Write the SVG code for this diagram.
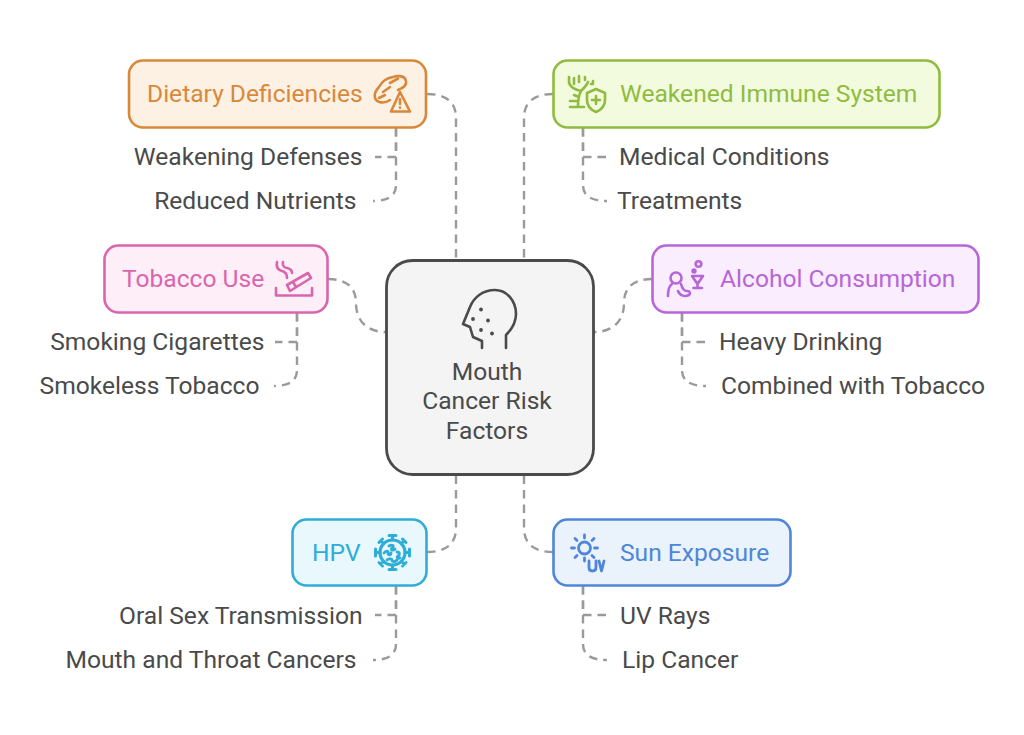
<svg xmlns="http://www.w3.org/2000/svg" width="1024" height="735" viewBox="0 0 1024 735">
<style>
text{font-family:Roboto,"Liberation Sans",sans-serif;font-size:24.6px}
.t{fill:#4a4a4a}
.c{fill:none;stroke:#9a9a9a;stroke-width:2.4;stroke-dasharray:8.500 6}
.b{stroke-width:2.6}
.i{fill:none;stroke-width:2.6;stroke-linecap:round;stroke-linejoin:round}
.d{stroke:none}
</style>
<rect width="1024" height="735" fill="#fff"/>
<g id="connectors">
<path class="c" d="M427 94C446 94 456 102 456 118V260"/>
<path class="c" d="M396 128V157H375"/>
<path class="c" d="M396 128V185C396 196 388 201 373 201"/>
<path class="c" d="M553 94C534 94 524 102 524 118V260"/>
<path class="c" d="M583 128V157H606"/>
<path class="c" d="M583 128V185C583 196 591 201 607 201"/>
<path class="c" d="M328 279C346 279 356 287 356 303C356 322 368 332 386 332"/>
<path class="c" d="M297 313V342H275"/>
<path class="c" d="M297 313V370C297 381 289 386 274 386"/>
<path class="c" d="M652 279C634 279 624 287 624 303C624 322 612 332 594 332"/>
<path class="c" d="M682 313V342H705"/>
<path class="c" d="M682 313V370C682 381 690 386 706 386"/>
<path class="c" d="M427 552C446 552 456 544 456 528V475"/>
<path class="c" d="M396 586V615H375"/>
<path class="c" d="M396 586V644C396 655 388 660 373 660"/>
<path class="c" d="M553 552C534 552 524 544 524 528V475"/>
<path class="c" d="M583 586V615H606"/>
<path class="c" d="M583 586V644C583 655 591 660 607 660"/>
</g>
<g id="center">
<rect x="386.500" y="260.500" width="207" height="214" rx="26" fill="#f4f4f4" stroke="#4a4a4a" stroke-width="2.800"/>
<path class="i" stroke="#4a4a4a" d="M482 348V341L473 337L470 327L463 324L470 307C474 297 483 290 495 290C507 290 516 301 516 314C516 322 512 329 506 335V348"/>
<circle class="d" fill="#4a4a4a" cx="481" cy="309.500" r="1.900"/><circle class="d" fill="#4a4a4a" cx="473" cy="319" r="1.900"/><circle class="d" fill="#4a4a4a" cx="488" cy="320.500" r="1.900"/><circle class="d" fill="#4a4a4a" cx="481" cy="330" r="1.900"/><circle class="d" fill="#4a4a4a" cx="492" cy="333.500" r="1.900"/>
<text class="t" x="487" y="380" text-anchor="middle">Mouth</text>
<text class="t" x="487" y="409" text-anchor="middle">Cancer Risk</text>
<text class="t" x="487" y="439" text-anchor="middle">Factors</text>
</g>
<g id="dietary">
<rect class="b" x="129" y="60.500" width="297" height="67" rx="14" fill="#fdf1e4" stroke="#d9883a"/>
<text x="147" y="102" fill="#d9883a">Dietary Deficiencies</text>
<path class="i" stroke="#d9883a" d="M390 100C384 104 377 103 375 98C374 94 376 90 379 87C382 81 387 78 393 77C399 75 405 76 406 81C407 85 403 88 398 90M390 83L398 78.500M383 92L390 87M379 98L385 95"/>
<path class="i" stroke="#d9883a" d="M400 92L410 111.500H391Z"/>
<path class="i" stroke="#d9883a" d="M400 99V104M400 107.500V107.700"/>
</g>
<g id="weakened">
<rect class="b" x="553.500" y="60.500" width="386" height="67" rx="14" fill="#f3fbdf" stroke="#8fbc3f"/>
<text x="620" y="102" fill="#8fbc3f">Weakened Immune System</text>
<path class="i" stroke="#8fbc3f" d="M570 107H584M578 106C578 100 579 95 581 91C584 88 587 85 588 82M581 91C576 90 571 88 569 83V77M574 78V84M579 76V82M585 77V80M593 81V83M570 101H578M574 95L579 97M591 84H593"/>
<path class="i" stroke="#8fbc3f" d="M596 89L605 93V100C605 106 601 110 596 112C591 110 587 106 587 100V93Z"/>
<path class="i" stroke="#8fbc3f" d="M596 96V104M592 100H600"/>
</g>
<g id="tobacco">
<rect class="b" x="104.500" y="245.500" width="223" height="67" rx="14" fill="#fdeef8" stroke="#d966ac"/>
<text x="122" y="287" fill="#d966ac">Tobacco Use</text>
<path class="i" stroke="#d966ac" d="M276 288V295.500H312V288M277 262C276 267 278 270 282 271C286 272 287 275 287 278M283 262C282 265 284 268 287 268C291 269 292 271 292 273"/>
<path class="i" stroke="#d966ac" d="M287 285L308 273L311 278L290 291Z M293 282L296 287"/>
</g>
<g id="alcohol">
<rect class="b" x="652.500" y="245.500" width="326" height="67" rx="14" fill="#f9edfe" stroke="#b766d9"/>
<text x="720" y="287" fill="#b766d9">Alcohol Consumption</text>
<circle class="i" stroke="#b766d9" cx="676" cy="278" r="5.500"/>
<path class="i" stroke="#b766d9" d="M668 296C668 290 669 286 672 284M681 284C682 288 684 291 687 291C690 291 691 293 689 295C685 297 680 296 678 291"/>
<circle class="i" stroke="#b766d9" cx="698.500" cy="264" r="2.800"/>
<circle class="d" fill="#b766d9" cx="694" cy="271" r="2.700"/>
<path class="i" stroke="#b766d9" d="M692 276H703L697.500 284ZM697.500 284V288M693.500 288H702"/>
</g>
<g id="hpv">
<rect class="b" x="292.500" y="519.500" width="134" height="66" rx="14" fill="#e8f8fd" stroke="#2eaed6"/>
<text x="312" y="561" fill="#2eaed6">HPV</text>
<circle class="i" stroke="#2eaed6" style="stroke-width:3.200" cx="392.500" cy="552.500" r="12.500"/>
<path class="i" stroke="#2eaed6" style="stroke-width:3" d="M392.500 540V536M389 535.500H396M392.500 565V569M389 569.500H396M380 552.500H376M375.500 549V556M405 552.500H409M409.500 549V556M383.700 543.700L381 541M379 542.500L382.500 539M401.300 543.700L404 541M406 542.500L402.500 539M383.700 561.300L381 564M379 562.500L382.500 566M401.300 561.300L404 564M406 562.500L402.500 566"/>
<path class="i" stroke="#2eaed6" style="stroke-width:2.800" d="M389 546C392 544 395 546 392 548C390 550 393 551 395 549M384 553C386 550 389 551 388 553C388 556 391 555 391 553M397 552C400 552 400 555 398 556C396 557 398 559 400 558M387 560C389 558 392 559 392 560C392 562 396 562 397 560"/>
</g>
<g id="sun">
<rect class="b" x="553.500" y="519.500" width="237" height="66" rx="14" fill="#eaf2fc" stroke="#4f86d9"/>
<text x="620" y="561" fill="#4f86d9">Sun Exposure</text>
<circle class="i" stroke="#4f86d9" style="stroke-width:2.800" cx="584.500" cy="548" r="6"/>
<path class="i" stroke="#4f86d9" style="stroke-width:2.800" d="M584.500 535V538M584.500 558V561M571.500 548H574.500M594.500 548H597.500M575 538.500L577 540.500M592 555.500L594 557.500M575 557.500L577 555.500M592 540.500L594 538.500"/>
<path class="i" stroke="#4f86d9" style="stroke-width:2.800" d="M589 561V567.500C589 570 590.500 571 592.500 571C594.500 571 596 570 596 567.500V561M599 561L601.500 571L604 561"/>
</g>
<g id="leaves">
<text class="t" x="362.500" y="165" text-anchor="end">Weakening Defenses</text>
<text class="t" x="356.500" y="209" text-anchor="end">Reduced Nutrients</text>
<text class="t" x="619" y="165">Medical Conditions</text>
<text class="t" x="617" y="209">Treatments</text>
<text class="t" x="264.500" y="350" text-anchor="end">Smoking Cigarettes</text>
<text class="t" x="259.500" y="394" text-anchor="end">Smokeless Tobacco</text>
<text class="t" x="719" y="350">Heavy Drinking</text>
<text class="t" x="721" y="394">Combined with Tobacco</text>
<text class="t" x="362.500" y="624" text-anchor="end">Oral Sex Transmission</text>
<text class="t" x="356.500" y="668" text-anchor="end">Mouth and Throat Cancers</text>
<text class="t" x="620" y="624">UV Rays</text>
<text class="t" x="622" y="668">Lip Cancer</text>
</g>
</svg>
